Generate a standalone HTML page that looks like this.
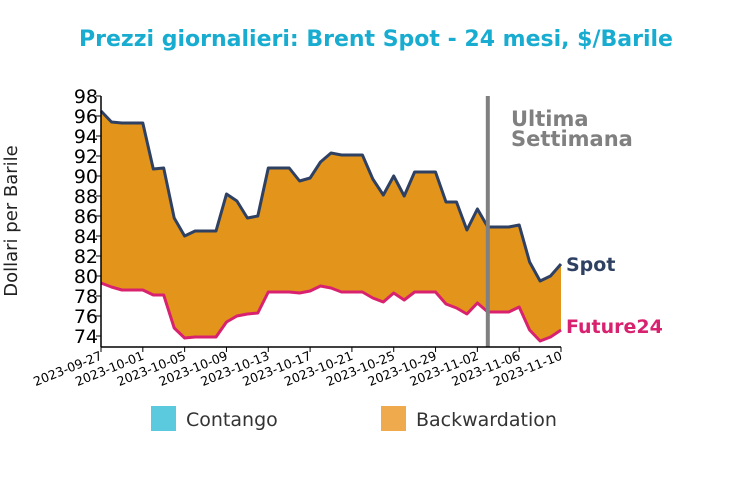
<!DOCTYPE html>
<html><head><meta charset="utf-8"><style>
body{margin:0;background:#fff;width:752px;height:476px;overflow:hidden}
svg text{font-family:"DejaVu Sans","Liberation Sans",sans-serif}
</style></head><body>
<svg id="chart" width="752" height="476" xmlns="http://www.w3.org/2000/svg">
<text x="376" y="46" text-anchor="middle" font-size="22" font-weight="bold" fill="#17acd0">Prezzi giornalieri: Brent Spot - 24 mesi, $/Barile</text>
<text transform="translate(17,221) rotate(-90)" text-anchor="middle" font-size="18" fill="#222">Dollari per Barile</text>
<g id="plot"></g>
<rect x="151" y="406" width="25" height="25" fill="#5bc9de"/>
<text x="186" y="426" font-size="19" fill="#333">Contango</text>
<rect x="381" y="406" width="25" height="25" fill="#eeaa4c"/>
<text x="416" y="426" font-size="19" fill="#333">Backwardation</text>
</svg>
<script>
const dates=["2023-09-27","2023-10-01","2023-10-05","2023-10-09","2023-10-13","2023-10-17","2023-10-21","2023-10-25","2023-10-29","2023-11-02","2023-11-06","2023-11-10"];
const yTicks=[74,76,78,80,82,84,86,88,90,92,94,96,98];
const spot=[96.5,95.4,95.3,95.3,95.3,90.7,90.8,85.8,84.0,84.5,84.5,84.5,88.2,87.5,85.8,86.0,90.8,90.8,90.8,89.5,89.8,91.4,92.3,92.1,92.1,92.1,89.7,88.1,90.0,88.0,90.4,90.4,90.4,87.4,87.4,84.6,86.7,84.9,84.9,84.9,85.1,81.4,79.5,80.0,81.2];
const future24=[79.3,78.9,78.6,78.6,78.6,78.1,78.1,74.8,73.8,73.9,73.9,73.9,75.4,76.0,76.2,76.3,78.4,78.4,78.4,78.3,78.5,79.0,78.8,78.4,78.4,78.4,77.8,77.4,78.3,77.6,78.4,78.4,78.4,77.2,76.8,76.2,77.3,76.4,76.4,76.4,76.9,74.6,73.5,73.9,74.6];
const markerDay=37;
const X0=101,X1=561,Y0=96,Y1=340,YMIN=73.6,YMAX=98;
const nDays=44;
const x=d=>X0+(X1-X0)*d/nDays;
const y=v=>Y1-(v-YMIN)/(YMAX-YMIN)*(Y1-Y0);
const NS="http://www.w3.org/2000/svg";
const g=document.getElementById('plot');
function el(t,a){const e=document.createElementNS(NS,t);for(const k in a)e.setAttribute(k,a[k]);g.appendChild(e);return e;}
const sp=spot.map((v,i)=>[x(i),y(v)]), fp=future24.map((v,i)=>[x(i),y(v)]);
const ptsStr=p=>p.map(q=>q[0].toFixed(1)+','+q[1].toFixed(1)).join(' ');
let area=el('polygon',{points:ptsStr(sp.concat(fp.slice().reverse())),fill:'#e3941a'});


let ls=el('polyline',{points:ptsStr(sp),fill:'none',stroke:'#2f4163','stroke-width':3,'stroke-linejoin':'round'});


let lf=el('polyline',{points:ptsStr(fp),fill:'none',stroke:'#d9226f','stroke-width':3,'stroke-linejoin':'round'});


let vl=el('line',{x1:x(markerDay),x2:x(markerDay),y1:Y0,y2:Y1+7,stroke:'#808080','stroke-width':4});


let t1=el('text',{x:511,y:126,'font-size':21,'font-weight':'bold',fill:'#808080'});t1.textContent='Ultima';


let t2=el('text',{x:511,y:146,'font-size':21,'font-weight':'bold',fill:'#808080'});t2.textContent='Settimana';


let ax=el('line',{x1:X0,x2:X0,y1:Y0,y2:Y1+7,stroke:'#000','stroke-width':1.5});


let bx=el('line',{x1:X0,x2:X1,y1:Y1+7,y2:Y1+7,stroke:'#000','stroke-width':1.5});


yTicks.forEach(v=>{
 let tk=el('line',{x1:X0-5,x2:X0,y1:y(v),y2:y(v),stroke:'#000'});
 
 
 let t=el('text',{x:X0-3,y:y(v)+7,'text-anchor':'end','font-size':19,fill:'#000'});t.textContent=v;
 
 
});
dates.forEach((d,i)=>{
 const xx=x(i*4);
 let tk=el('line',{x1:xx,x2:xx,y1:Y1+7,y2:Y1+12,stroke:'#000'});
 
 
 let t=el('text',{transform:`translate(${xx+2},${Y1+19}) rotate(-22)`,'text-anchor':'end','font-size':12.5,fill:'#000'});t.textContent=d;
 
 
});
let ls2=el('text',{x:566,y:sp[nDays][1]+7,'font-size':19,'font-weight':'bold',fill:'#2f4163'});ls2.textContent='Spot';


let lf2=el('text',{x:566,y:fp[nDays][1]+3,'font-size':19,'font-weight':'bold',fill:'#d9226f'});lf2.textContent='Future24';


</script>
</body></html>
